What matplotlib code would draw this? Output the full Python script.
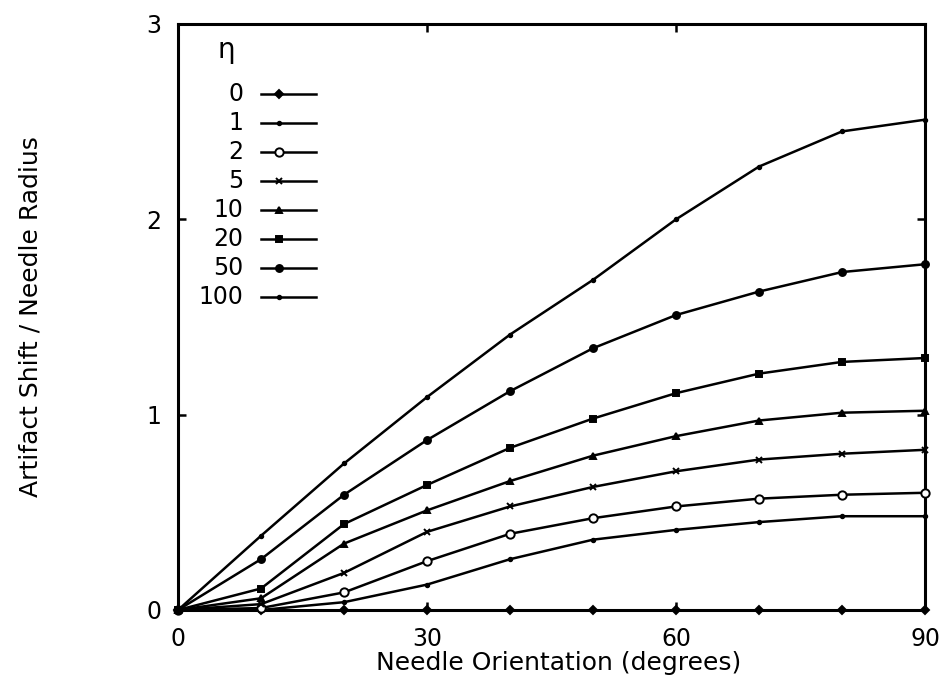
import matplotlib
matplotlib.use("Agg")
import matplotlib.pyplot as plt

# needle orientation (degrees)
angles = [0, 10, 20, 30, 40, 50, 60, 70, 80, 90]

# artifact shift / needle radius for each eta
eta_0 = [0, 0, 0, 0, 0, 0, 0, 0, 0, 0]
eta_1 = [0, 0.00, 0.04, 0.13, 0.26, 0.36, 0.41, 0.45, 0.48, 0.48]
eta_2 = [0, 0.01, 0.09, 0.25, 0.39, 0.47, 0.53, 0.57, 0.59, 0.60]
eta_5 = [0, 0.03, 0.19, 0.40, 0.53, 0.63, 0.71, 0.77, 0.80, 0.82]
eta_10 = [0, 0.06, 0.34, 0.51, 0.66, 0.79, 0.89, 0.97, 1.01, 1.02]
eta_20 = [0, 0.11, 0.44, 0.64, 0.83, 0.98, 1.11, 1.21, 1.27, 1.29]
eta_50 = [0, 0.26, 0.59, 0.87, 1.12, 1.34, 1.51, 1.63, 1.73, 1.77]
eta_100 = [0, 0.38, 0.75, 1.09, 1.41, 1.69, 2.00, 2.27, 2.45, 2.51]

labels = ["0", "1", "2", "5", "10", "20", "50", "100"]
series = [eta_0, eta_1, eta_2, eta_5, eta_10, eta_20, eta_50, eta_100]
markers = ["D", ".", "o", "x", "^", "s", "o", "."]
msizes = [4, 5, 6, 5, 5, 5, 5, 5]
facecols = ["black", "black", "white", "black", "black", "black", "black", "black"]

plt.rcParams['font.family'] = ['DejaVu Sans']

fig = plt.figure(figsize=(9.44, 6.83), dpi=100)
ax = fig.add_axes([0.1886, 0.1069, 0.7913, 0.858])

for vals, m, ms, fc in zip(series, markers, msizes, facecols):
    ax.plot(angles, vals, color="black", lw=1.8, marker=m, ms=ms,
            mfc=fc, mec="black", mew=1.4, clip_on=False, zorder=3)

ax.set_xlim(0, 90)
ax.set_ylim(0, 3)
ax.set_xticks([0, 30, 60, 90])
ax.set_yticks([0, 1, 2, 3])
ax.tick_params(direction="in", length=5.5, width=1.8, top=True, right=True,
               labelsize=17, pad=12)
for s in ax.spines.values():
    s.set_linewidth(2.2)

xl = ax.set_xlabel("Needle Orientation (degrees)", fontsize=18)
xl.set_va("center")
ax.xaxis.set_label_coords(0.51, -0.09)
ax.set_ylabel("Artifact Shift / Needle Radius", fontsize=18)
ax.yaxis.set_label_coords(-0.182, 0.5)

# legend drawn by hand: right-aligned labels, line sample with marker
ax.text(0.064, 0.956, "\u03b7", transform=ax.transAxes, fontsize=20,
        ha="center", va="center")
for i, (lab, m, ms, fc) in enumerate(zip(labels, markers, msizes, facecols)):
    yy = 0.881 - i * 0.0495
    ax.text(0.087, yy, lab, transform=ax.transAxes, fontsize=17,
            ha="right", va="center")
    ax.plot([0.111, 0.185], [yy, yy], transform=ax.transAxes,
            color="black", lw=1.8)
    ax.plot([0.135], [yy], transform=ax.transAxes, color="black",
            marker=m, ms=ms, mfc=fc, mec="black", mew=1.4)

fig.savefig("out.png", dpi=100)
